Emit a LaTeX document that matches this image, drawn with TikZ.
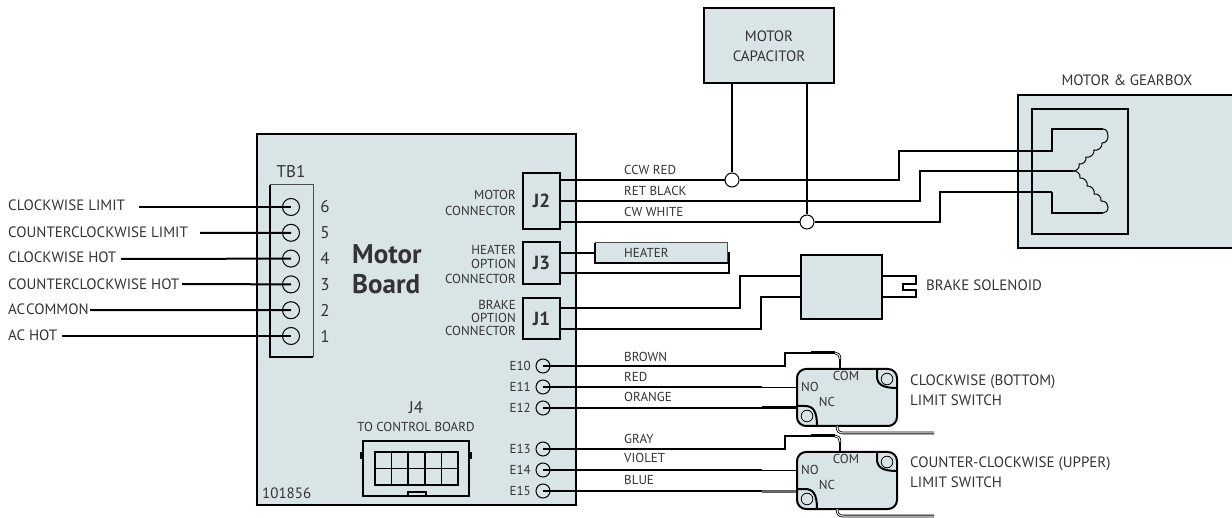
\documentclass[tikz,border=0pt]{standalone}
\usepackage{fontspec}
\setmainfont{PT Sans}
\usetikzlibrary{positioning}
\definecolor{boardfill}{HTML}{D9E4E6}
\definecolor{inktext}{HTML}{333333}
\tikzset{
    wire/.style={draw=black,line width=2pt},
    thinwire/.style={draw=black,line width=1pt},
    tabwire/.style={draw=black,double=white,double distance=1pt,line width=.8pt},
    box/.style={draw=black,line width=2pt,fill=boardfill},
    txt/.style={text=inktext,font=\fontsize{15}{15}\selectfont,inner sep=0pt},
    wiretxt/.style={text=inktext,font=\fontsize{13}{13}\selectfont,inner sep=0pt,anchor=west},
    smalltxt/.style={text=inktext,font=\fontsize{13}{13}\selectfont,inner sep=0pt},
    numtxt/.style={text=inktext,font=\fontsize{17}{17}\selectfont,inner sep=0pt},
    stack/.style={smalltxt,align=right,anchor=east},
    term/.style={circle,draw=black,line width=1pt,fill=boardfill,minimum size=17pt,inner sep=0pt},
    eterm/.style={circle,draw=black,line width=1pt,fill=boardfill,minimum size=14pt,inner sep=0pt},
    tap/.style={circle,draw=black,line width=1pt,fill=white,minimum size=14pt,inner sep=0pt},
    jack/.style={draw=black,line width=2pt,fill=boardfill,minimum width=37pt,font=\fontsize{19}{19}\selectfont\bfseries,text=inktext,inner sep=0pt},
    pics/microswitch/.style={code={
        \draw[box,rounded corners=9pt] (0,0) rectangle (100,57);
        \draw[wire] (80,0) -- (80,7) .. controls (80,15) and (85,19) .. (100,19);
        \draw[draw=black,line width=.8pt] (90,10) circle (5.8);
        \draw[wire] (0,37) -- (8,37) .. controls (16,37) and (20,42) .. (20,57);
        \draw[draw=black,line width=.8pt] (10,47) circle (5.8);
        \node[smalltxt] (-com) at (49,7) {COM};
        \node[smalltxt] (-no) at (13,18) {NO};
        \node[smalltxt] (-nc) at (30,33) {NC};
        \draw[black,line width=3pt] (14,-16) -- (38,-16);
        \draw[tabwire] (38,-16) .. controls (41,-16) and (43,-14) .. (43,-10);
        \draw[black,line width=2.5pt] (43,-10) -- (43,0);
        \draw[tabwire] (40,57) .. controls (40,62) and (42,64) .. (46,64) -- (137,64);
    }}
}
\begin{document}
\begin{tikzpicture}[x=1pt,y=-1pt,node distance=25.8pt,on grid]
    \useasboundingbox (0,0) rectangle (1232,518);
    % main board
    \draw[box] (257,134) rectangle (576,505);
    \node[numtxt] (tb1) at (291,172) {TB1};
    \draw[draw=black!70,line width=1pt] (270,185) rectangle (313,357);
    \draw[wire] (270,185) -- (270,357) -- (313,357);
    \node[term] (t6) at (291,207) {};
    \node[term] (t5) [below=of t6] {};
    \node[term] (t4) [below=of t5] {};
    \node[term] (t3) [below=of t4] {};
    \node[term] (t2) [below=of t3] {};
    \node[term] (t1) [below=of t2] {};
    \node[numtxt] (n6) at (325,207) {6};
    \node[numtxt] (n5) [below=of n6] {5};
    \node[numtxt] (n4) [below=of n5] {4};
    \node[numtxt] (n3) [below=of n4] {3};
    \node[numtxt] (n2) [below=of n3] {2};
    \node[numtxt] (n1) [below=of n2] {1};
    \node[txt,anchor=west] (l6) at (8,205) {CLOCKWISE LIMIT};
    \node[txt,anchor=west] (l5) at (8,232) {COUNTERCLOCKWISE LIMIT};
    \node[txt,anchor=west] (l4) at (8,257) {CLOCKWISE HOT};
    \node[txt,anchor=west] (l3) at (8,284) {COUNTERCLOCKWISE HOT};
    \node[txt,anchor=west] (l2) at (8,309) {AC\hspace{1pt}COMMON};
    \node[txt,anchor=west] (l1) at (8,335) {AC HOT};
    \coordinate (s6) at (139,207);
    \coordinate (s5) at (200,233);
    \coordinate (s4) at (121,259);
    \coordinate (s3) at (182,284);
    \coordinate (s2) at (90,310);
    \coordinate (s1) at (62,336);
    \path[wire]
        (s6) edge (t6.center)
        (s5) edge (t5.center)
        (s4) edge (t4.center)
        (s3) edge (t3.center)
        (s2) edge (t2.center)
        (s1) edge (t1.center);
    \node[font=\fontsize{27}{30}\selectfont\bfseries,text=inktext,align=left,anchor=west,inner sep=0pt] (title) at (352,269) {Motor\\Board};
    % connectors
    \node[jack,minimum height=56pt] (j2) at (541.5,201) {J2};
    \node[jack,minimum height=42pt] (j3) at (541.5,263) {J3};
    \node[jack,minimum height=41pt] (j1) at (541.5,318.5) {J1};
    \node[stack,font=\fontsize{13}{16}\selectfont] (j2txt) at (516,203) {MOTOR\\CONNECTOR};
    \node[stack,font=\fontsize{13}{14.5}\selectfont] (j3txt) at (516,264) {HEATER\\OPTION\\CONNECTOR};
    \node[stack,font=\fontsize{13}{13.2}\selectfont] (j1txt) at (516,318) {BRAKE\\OPTION\\CONNECTOR};
    % capacitor and motor
    \node[box,minimum width=130pt,minimum height=75pt,align=center,text=inktext,font=\fontsize{15}{20}\selectfont,inner sep=0pt] (cap) at (769,46) {MOTOR\\CAPACITOR};
    \draw[box] (1018,95) rectangle (1236,248);
    \draw[wire] (1032,109) rectangle (1128,234);
    \node[txt] (mglabel) at (1127,80) {MOTOR \& GEARBOX};
    \node[tap] (tapccw) at (732,180) {};
    \node[tap] (tapcw) at (807,222) {};
    \path[wire]
        (cap.south -| tapccw) edge (tapccw)
        (cap.south -| tapcw) edge (tapcw);
    \coordinate (star) at (1073,171);
    \coordinate (ccwend) at (1103,129);
    \coordinate (cwend) at (1103,213);
    \draw[wire] (j2.east |- tapccw) -- (tapccw);
    \draw[wire] (tapccw) -- (899,180) |- (1052,151) -- (1052,129) -- (ccwend);
    \draw[wire] (j2.east |- 0,201) -- (920,201) |- (star);
    \draw[wire] (j2.east |- tapcw) -- (tapcw);
    \draw[wire] (tapcw) -- (940,222) |- (1052,192);
    \draw[thinwire,line width=1.3pt] (1052,192) -- (1052,213) -- (cwend);
    \draw[thinwire] (ccwend) .. controls (1107,129) and (1108,133) .. (1108,136) .. controls (1108,140) and (1106,143) .. (1102,143)
        to[bend left=60] (1094,150) to[bend left=60] (1086,157) to[bend left=60] (1079,164) to[bend left=60] (star);
    \draw[thinwire] (star) to[bend left=60] (1080,178) to[bend left=60] (1087,186) to[bend left=60] (1094,194) to[bend left=60] (1101,201)
        .. controls (1106,201) and (1108,204) .. (1108,207) .. controls (1108,211) and (1106,213) .. (cwend);
    \node[wiretxt] (ccwred) at (624,170) {CCW RED};
    \node[wiretxt] (retblack) at (624,191) {RET BLACK};
    \node[wiretxt] (cwwhite) at (624,212) {CW WHITE};
    % heater
    \draw[wire] (j3.east |- 0,253) -- (595,253);
    \draw[wire] (j3.east |- 0,273) -- (729,273) -- (729,252);
    \draw[draw=black!70,line width=1pt,fill=boardfill] (595,243) rectangle (727,263);
    \draw[wire] (595,243) -- (595,263) -- (728,263);
    \node[wiretxt] (heater) at (624,253) {HEATER};
    % brake
    \node[box,minimum width=81pt,minimum height=64pt,inner sep=0pt] (brake) at (841.5,287) {};
    \draw[wire] (j1.east |- 0,308) -- (740,308) |- (brake.west |- 0,276);
    \draw[wire] (j1.east |- 0,329) -- (761,329) |- (brake.west |- 0,297);
    \draw[wire] (brake.east |- 0,276) -- (916,276) -- (916,284) -- (903,284) -- (903,290) -- (916,290) -- (916,297) -- (brake.east |- 0,297);
    \node[txt,anchor=west] (solenoid) at (926,285) {BRAKE SOLENOID};
    % J4
    \draw[thinwire,line width=1.5pt] (361,453) rectangle (363,458);
    \draw[thinwire,line width=1.5pt] (469,453) rectangle (471,458);
    \draw[thinwire,line width=1.5pt] (363,441) rectangle (469,496);
    \draw[thinwire,line width=1.5pt] (408,492) rectangle (426,496);
    \draw[thinwire,line width=1.5pt] (375,452) rectangle (458,485);
    \draw[thinwire,line width=1.5pt] (375,468.5) -- (458,468.5) (391.6,452) -- (391.6,485) (408.2,452) -- (408.2,485) (424.8,452) -- (424.8,485) (441.4,452) -- (441.4,485);
    \node[numtxt] (j4) at (416,408) {J4};
    \node[smalltxt] (j4txt) at (416,427) {TO CONTROL BOARD};
    \node[txt,anchor=west] (partno) at (262,493) {101856};
    % limit switches
    \node[eterm] (e10) at (543,366) {};
    \node[eterm] (e11) [below=21pt of e10] {};
    \node[eterm] (e12) [below=21pt of e11] {};
    \node[eterm] (e13) at (543,449) {};
    \node[eterm] (e14) [below=21pt of e13] {};
    \node[eterm] (e15) [below=21pt of e14] {};
    \node[smalltxt,anchor=east] (e10txt) at (531,366) {E10};
    \node[smalltxt,anchor=east] (e11txt) at (531,387) {E11};
    \node[smalltxt,anchor=east] (e12txt) at (531,408) {E12};
    \node[smalltxt,anchor=east] (e13txt) at (531,449) {E13};
    \node[smalltxt,anchor=east] (e14txt) at (531,470) {E14};
    \node[smalltxt,anchor=east] (e15txt) at (531,491) {E15};
    \draw[wire] (e10.center) -- (785,366) |- (811,353);
    \draw[wire] (e13.center) -- (785,449) |- (811,436);
    \draw[wire] (e11.center) -- (764,387);
    \draw[wire] (e12.center) -- (764,408);
    \draw[wire] (e14.center) -- (764,470);
    \draw[wire] (e15.center) -- (764,491);
    \draw[tabwire] (762,387) -- (797,387);
    \draw[black,line width=3pt] (762,408) -- (797,408);
    \draw[tabwire] (762,470) -- (797,470);
    \draw[black!60,line width=3pt] (762,491) -- (797,491);
    \pic (swa) at (797,369) {microswitch};
    \pic (swb) at (797,452) {microswitch};
    \node[wiretxt] (brown) at (624,357) {BROWN};
    \node[wiretxt] (red) at (624,377) {RED};
    \node[wiretxt] (orange) at (624,397) {ORANGE};
    \node[wiretxt] (gray) at (624,439) {GRAY};
    \node[wiretxt] (violet) at (624,458) {VIOLET};
    \node[wiretxt] (blue) at (624,480) {BLUE};
    \node[txt,anchor=west,align=left,font=\fontsize{15}{20}\selectfont] (swatxt) at (910,390) {CLOCKWISE (BOTTOM)\\LIMIT SWITCH};
    \node[txt,anchor=west,align=left,font=\fontsize{15}{20}\selectfont] (swbtxt) at (910,472.5) {COUNTER-CLOCKWISE (UPPER)\\LIMIT SWITCH};
\end{tikzpicture}
\end{document}
